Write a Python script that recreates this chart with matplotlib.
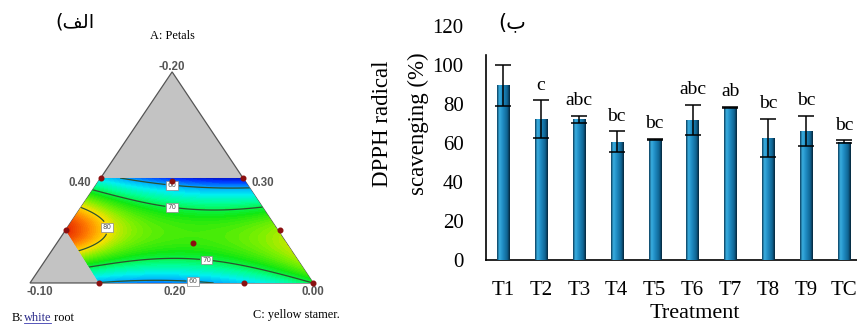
import numpy as np
import matplotlib
matplotlib.use("Agg")
import matplotlib.pyplot as plt
from matplotlib.colors import LinearSegmentedColormap
from matplotlib.patches import Polygon

# ---- right panel data (bar chart) ----
treatments = ["T1", "T2", "T3", "T4", "T5", "T6", "T7", "T8", "T9", "TC"]
dpph = [89.7, 72.1, 72.1, 60.7, 61.9, 71.8, 78.3, 62.4, 66.2, 60.7]
dpph_err = [10.5, 9.7, 2.0, 5.3, 0.3, 7.8, 0.4, 9.8, 7.6, 0.7]
letters = ["", "c", "abc", "bc", "bc", "abc", "ab", "bc", "bc", "bc"]
y_ticks = [0, 20, 40, 60, 80, 100, 120]

# ---- left panel data (mixture design, stretched ternary coords) ----
triangle = [(0.0, 0.0), (1.0, 0.0), (0.502, 0.746)]
region = [(0.250, 0.371), (0.752, 0.371), (1.0, 0.0), (0.244, 0.0), (0.126, 0.187)]
design_u = [0.250, 0.752, 0.126, 0.244, 1.0, 0.502, 0.576, 0.883, 0.756]
design_v = [0.371, 0.371, 0.187, 0.0, 0.0, 0.360, 0.141, 0.187, 0.0]
# fitted response surface coefficients (u = across, s = height within region)
b0, b_u, b_s, b_uu, b_ss, b_us = 74.0, -6.7, -3.0, 37.0, -68.0, -22.6
bump_amp, bump_u, bump_s, bump_wu, bump_ws = 9.0, 0.10, 0.50, 0.155, 0.214
contour_levels = [60, 70, 80]
label_pos = [(0.502, 0.350), (0.502, 0.276), (0.279, 0.198), (0.625, 0.099), (0.576, 0.018)]
axis_marks = [("-0.20", 0.502, 0.763), ("0.40", 0.177, 0.353), ("0.30", 0.823, 0.353),
              ("-0.10", 0.035, -0.032), ("0.20", 0.512, -0.032), ("0.00", 1.0, -0.032)]

fig = plt.figure(figsize=(8.57, 3.24), dpi=100)
serif = "Liberation Serif"

# ================= left: ternary contour =================
axl = fig.add_axes([0, 0, 340 / 857, 1])
axl.set_xlim(-0.106, 1.095)
axl.set_ylim(-0.145, 1.0)
axl.axis("off")

axl.add_patch(Polygon(triangle, closed=True, fc="#c3c3c3", ec="#555555", lw=0.9, zorder=1))

uu, vv = np.meshgrid(np.linspace(0.1, 1.0, 300), np.linspace(0.0, 0.371, 200))
du = uu - 0.5
ds = vv / 0.371 - 0.5
zz = (b0 + b_u * du + b_s * ds + b_uu * du ** 2 + b_ss * ds ** 2 + b_us * du * ds
      + bump_amp * np.exp(-((uu - bump_u) / bump_wu) ** 2 - ((ds + 0.5 - bump_s) / bump_ws) ** 2))

surf_cmap = LinearSegmentedColormap.from_list("de", [
    (0.0, "#0000a0"), (0.1, "#0030ff"), (0.2, "#00a0ff"), (0.3, "#00f0f0"),
    (0.4, "#00ff90"), (0.5, "#10e810"), (0.6, "#80f000"), (0.7, "#ffe000"),
    (0.825, "#ff8000"), (1.0, "#e01000")])

clip = Polygon(region, closed=True, fc="none", ec="none")
axl.add_patch(clip)
cf = axl.contourf(uu, vv, zz, levels=np.linspace(50, 95, 90), cmap=surf_cmap,
                  vmin=52, vmax=92, zorder=2, extend="both")
cf.set_clip_path(clip)
cl = axl.contour(uu, vv, zz, levels=contour_levels, colors="#2c5230", linewidths=0.9, zorder=3)
cl.set_clip_path(clip)
labs = axl.clabel(cl, fmt="%d", fontsize=5, manual=label_pos, inline=True, inline_spacing=2)
for t in labs:
    t.set_rotation(0)
    t.set_color("#555555")
    t.set_bbox(dict(boxstyle="square,pad=0.2", fc="white", ec="#888888", lw=0.5))
    t.set_zorder(5)

axl.scatter(design_u, design_v, s=11, color="#8b1010", zorder=6)

for txt, x, y in axis_marks:
    axl.text(x, y, txt, ha="center", va="center", fontsize=8.3, fontweight="bold",
             color="#555555", family="Liberation Sans")
axl.text(0.502, 0.873, "A: Petals", ha="center", va="center", fontsize=8.8, family=serif)
axl.text(0.940, -0.113, "C: yellow stamer.", ha="center", va="center", fontsize=8.8, family=serif)

r = fig.canvas.get_renderer()
inv = axl.transData.inverted()
t1 = axl.text(-0.064, -0.124, "B:", ha="left", va="center", fontsize=8.8, family=serif)
x1 = inv.transform((t1.get_window_extent(r).x1, 0))[0]
t2 = axl.text(x1, -0.124, "white", ha="left", va="center", fontsize=8.8, family=serif, color="#2a2a8a")
x2 = inv.transform((t2.get_window_extent(r).x1, 0))[0]
axl.text(x2, -0.124, " root", ha="left", va="center", fontsize=8.8, family=serif)
axl.plot([x1, x2], [-0.142, -0.142], color="#3a3ab0", lw=0.6)

axl.text(0.159, 0.922, "(\uFED2\uFEDF\uFE8D", ha="center", va="center", fontsize=14,
         family=["DejaVu Sans"])

# ================= right: bar chart =================
ax = fig.add_axes([486 / 857, 1 - 260 / 324, (857 - 486) / 857, (260 - 26) / 324])
x = np.arange(1, len(treatments) + 1)
bars = ax.bar(x, dpph, width=0.32, color="#1f84bb", zorder=2)

bar_cmap = LinearSegmentedColormap.from_list("cyl", [
    (0.0, "#0a3d5c"), (0.18, "#3aaee0"), (0.45, "#1f8cc4"), (0.8, "#0f6492"), (1.0, "#05253a")])
grad = np.linspace(0, 1, 64).reshape(1, -1)
for b in bars:
    im = ax.imshow(grad, extent=[b.get_x(), b.get_x() + b.get_width(), 0, b.get_height()],
                   aspect="auto", cmap=bar_cmap, zorder=3, interpolation="bilinear")
    im.set_clip_path(b)

ax.errorbar(x, dpph, yerr=dpph_err, fmt="none", ecolor="black", elinewidth=1.1,
            capsize=5.5, capthick=1.1, zorder=4)
for xi, v, e, lab in zip(x, dpph, dpph_err, letters):
    ax.text(xi, v + e + 5.5, lab, ha="center", va="baseline", fontsize=14, family=serif)

ax.set_xlim(0.55, 10.34)
ax.set_ylim(0, 120)
ax.set_yticks(y_ticks)
ax.set_xticks(x)
ax.set_xticklabels(treatments)
ax.tick_params(axis="both", length=0, labelsize=15)
ax.tick_params(axis="y", pad=16)
ax.tick_params(axis="x", pad=15)
for lbl in ax.get_xticklabels() + ax.get_yticklabels():
    lbl.set_family(serif)
for side in ["top", "right"]:
    ax.spines[side].set_visible(False)
ax.spines["left"].set_bounds(0, 105)
ax.spines["left"].set_linewidth(1.2)
ax.spines["bottom"].set_linewidth(1.2)

fig.text(383 / 857, 1 - 124 / 324, "DPPH radical", rotation=90, ha="center", va="center",
         fontsize=16.5, family=serif)
fig.text(418 / 857, 1 - 124 / 324, "scavenging (%)", rotation=90, ha="center", va="center",
         fontsize=16.5, family=serif)
fig.text(695 / 857, 1 - 313 / 324, "Treatment", ha="center", va="center", fontsize=16, family=serif)
fig.text(512 / 857, 1 - 22 / 324, "(\uFE8F", ha="center", va="center", fontsize=15,
         family=["DejaVu Sans"])

fig.savefig("out.png", dpi=100)
